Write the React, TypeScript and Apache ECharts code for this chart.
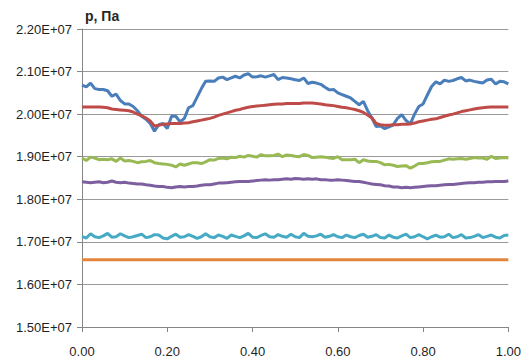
import React, { useEffect, useRef } from "react";
import * as echarts from "echarts";

// x grid positions (0.00 … 1.00, step 0.01)
const xs: number[] = Array.from({ length: 101 }, (_, i) => i / 100);

// values in units of 1E+07 Pa
const blue = [
  2.068, 2.064, 2.073, 2.06, 2.058, 2.058, 2.055, 2.042, 2.047, 2.032,
  2.024, 2.024, 2.018, 2.008, 1.995, 1.988, 1.978, 1.96, 1.975, 1.978,
  1.966, 1.995, 1.995, 1.982, 1.99, 2.015, 2.02, 2.04, 2.06, 2.077,
  2.078, 2.077, 2.085, 2.087, 2.081, 2.085, 2.089, 2.085, 2.092, 2.095,
  2.087, 2.088, 2.09, 2.087, 2.09, 2.093, 2.081, 2.086, 2.085, 2.083,
  2.081, 2.079, 2.085, 2.072, 2.075, 2.073, 2.07, 2.063, 2.057, 2.058,
  2.05, 2.046, 2.042, 2.038, 2.03, 2.022, 2.03, 2.008, 1.991, 1.971,
  1.972, 1.966, 1.97, 1.975, 1.99, 1.999, 1.985, 1.977, 2.0, 2.018,
  2.024, 2.045, 2.065, 2.076, 2.071, 2.08, 2.077, 2.079, 2.083, 2.086,
  2.078, 2.08, 2.077, 2.075, 2.073, 2.08, 2.082, 2.071, 2.077, 2.076,
  2.071,
];
const red = [
  2.017, 2.017, 2.017, 2.017, 2.017, 2.016, 2.015, 2.012, 2.011, 2.01,
  2.009, 2.008, 2.005, 2.0, 1.996, 1.991, 1.984, 1.972, 1.974, 1.976,
  1.977, 1.978, 1.978, 1.978, 1.979, 1.98, 1.982, 1.984, 1.986, 1.988,
  1.99, 1.993, 1.997, 2.0, 2.003, 2.006, 2.009, 2.011, 2.014, 2.016,
  2.018, 2.019, 2.02, 2.021, 2.022, 2.023, 2.024, 2.024, 2.025, 2.025,
  2.025, 2.025, 2.026, 2.026, 2.026, 2.025, 2.024, 2.022, 2.021, 2.02,
  2.018, 2.016, 2.015, 2.013, 2.011, 2.008, 2.004, 1.998, 1.991, 1.978,
  1.975, 1.974, 1.974, 1.975, 1.975, 1.976, 1.976, 1.977, 1.979, 1.982,
  1.984, 1.986, 1.988, 1.989, 1.992, 1.995, 1.998, 2.0, 2.003, 2.006,
  2.008, 2.01, 2.012, 2.014, 2.015, 2.016, 2.017, 2.017, 2.017, 2.017,
  2.017,
];
const green = [
  1.897, 1.891, 1.899, 1.897, 1.893, 1.894, 1.893, 1.895, 1.889, 1.897,
  1.89, 1.891, 1.889, 1.886, 1.888, 1.889, 1.891, 1.886, 1.884, 1.883,
  1.882, 1.88, 1.876, 1.883, 1.88, 1.883, 1.886, 1.886, 1.884, 1.888,
  1.893, 1.892, 1.896, 1.897, 1.895, 1.899, 1.898, 1.901, 1.899, 1.903,
  1.901, 1.899, 1.905, 1.902, 1.902, 1.903, 1.906, 1.9, 1.904, 1.903,
  1.901, 1.9, 1.905, 1.903, 1.898, 1.899, 1.9, 1.899, 1.897, 1.896,
  1.9, 1.893, 1.893, 1.893, 1.894, 1.886, 1.893, 1.89, 1.889, 1.889,
  1.886, 1.881, 1.882, 1.88, 1.877, 1.878, 1.879, 1.873, 1.878, 1.884,
  1.884, 1.886, 1.888, 1.889, 1.889, 1.892, 1.895, 1.894, 1.895, 1.896,
  1.894, 1.896, 1.898, 1.897, 1.897, 1.894, 1.901, 1.896, 1.897, 1.898,
  1.897,
];
const purple = [
  1.841, 1.84, 1.839, 1.84, 1.841, 1.839, 1.84, 1.843, 1.84, 1.839,
  1.84, 1.838, 1.837, 1.836, 1.836, 1.834, 1.833, 1.831, 1.83, 1.83,
  1.828, 1.827, 1.829, 1.83, 1.829, 1.83, 1.83, 1.831, 1.833, 1.834,
  1.834, 1.836, 1.838, 1.838, 1.839, 1.84, 1.841, 1.842, 1.842, 1.842,
  1.843, 1.844, 1.845, 1.846, 1.845, 1.846, 1.846, 1.847, 1.848, 1.847,
  1.849, 1.848, 1.847, 1.848, 1.847, 1.848, 1.846, 1.846, 1.845, 1.845,
  1.846, 1.845, 1.844, 1.843, 1.842, 1.842, 1.84, 1.838, 1.836, 1.835,
  1.834, 1.832, 1.831, 1.829, 1.829, 1.827, 1.828, 1.827, 1.828, 1.829,
  1.83, 1.831, 1.832, 1.832, 1.833, 1.834, 1.835, 1.835, 1.836, 1.837,
  1.838, 1.839, 1.839, 1.84, 1.84, 1.841, 1.841, 1.842, 1.842, 1.842,
  1.843,
];
const teal = [
  1.713, 1.709, 1.719, 1.712, 1.71, 1.714, 1.72, 1.711, 1.712, 1.719,
  1.714, 1.71, 1.712, 1.715, 1.718, 1.71, 1.712, 1.717, 1.716, 1.709,
  1.707, 1.713, 1.718, 1.711, 1.712, 1.717, 1.713, 1.708, 1.712, 1.719,
  1.712, 1.71, 1.716, 1.713, 1.708, 1.716, 1.713, 1.71, 1.714, 1.72,
  1.711, 1.71, 1.715, 1.719, 1.712, 1.711, 1.717, 1.713, 1.711, 1.718,
  1.712, 1.71, 1.72, 1.713, 1.712, 1.714, 1.718, 1.711, 1.713, 1.717,
  1.712, 1.71, 1.716, 1.712, 1.71, 1.715, 1.718, 1.711, 1.713, 1.717,
  1.71, 1.709, 1.716, 1.711, 1.709, 1.714, 1.718, 1.71, 1.712, 1.717,
  1.712, 1.707, 1.712, 1.716, 1.711, 1.712, 1.718, 1.71, 1.712, 1.717,
  1.709, 1.71, 1.713, 1.717, 1.71, 1.713, 1.716, 1.711, 1.709, 1.715,
  1.716,
];
const orangeX = [0, 1];
const orange = [1.658, 1.658];

const SCALE = 1e7;
const FONT = "'Liberation Sans', Arial, sans-serif";

const seriesDefs = [
  { name: "s1", x: xs, y: blue, color: "#4A7EBB" },
  { name: "s2", x: xs, y: red, color: "#BE4B48" },
  { name: "s3", x: xs, y: green, color: "#98B954" },
  { name: "s4", x: xs, y: purple, color: "#7D5FA0" },
  { name: "s5", x: xs, y: teal, color: "#46AAC5" },
  { name: "s6", x: orangeX, y: orange, color: "#E5853B" },
];

export default function App() {
  const ref = useRef<HTMLDivElement>(null);
  useEffect(() => {
    if (!ref.current) return;
    const chart = echarts.init(ref.current, undefined, { renderer: "svg" });
    chart.setOption({
      animation: false,
      backgroundColor: "#ffffff",
      title: {
        text: "р, Па",
        left: 80,
        top: 4,
        textStyle: { fontFamily: FONT, fontSize: 14, fontWeight: "bold", color: "#262626" },
      },
      grid: { left: 82, right: 15, top: 29, bottom: 37, containLabel: false },
      xAxis: {
        type: "value",
        min: 0,
        max: 1,
        interval: 0.2,
        axisLine: { show: true, onZero: false, lineStyle: { color: "#868686", width: 1 } },
        axisTick: { show: true, length: 5, lineStyle: { color: "#868686" } },
        splitLine: { show: false },
        axisLabel: {
          margin: 18,
          fontFamily: FONT,
          fontSize: 13,
          color: "#1f1f1f",
          formatter: (v: number) => v.toFixed(2),
        },
      },
      yAxis: {
        type: "value",
        min: 1.5e7,
        max: 2.2e7,
        interval: 1e6,
        axisLine: { show: true, lineStyle: { color: "#868686", width: 1 } },
        axisTick: { show: true, length: 5, lineStyle: { color: "#868686" } },
        splitLine: { show: true, lineStyle: { color: "#9a9a9a", width: 1 } },
        axisLabel: {
          margin: 10,
          fontFamily: FONT,
          fontSize: 13,
          color: "#1f1f1f",
          formatter: (v: number) => (v / 1e7).toFixed(2) + "E+07",
        },
      },
      series: seriesDefs.map((s) => ({
        name: s.name,
        type: "line",
        data: s.x.map((x, i) => [x, s.y[i] * SCALE]),
        showSymbol: false,
        symbol: "none",
        smooth: false,
        lineStyle: { color: s.color, width: 3 },
        itemStyle: { color: s.color },
      })),
    });
    return () => chart.dispose();
  }, []);
  return (
    <div
      ref={ref}
      style={{ position: "absolute", left: 0, top: 0, width: 524, height: 364 }}
    />
  );
}
